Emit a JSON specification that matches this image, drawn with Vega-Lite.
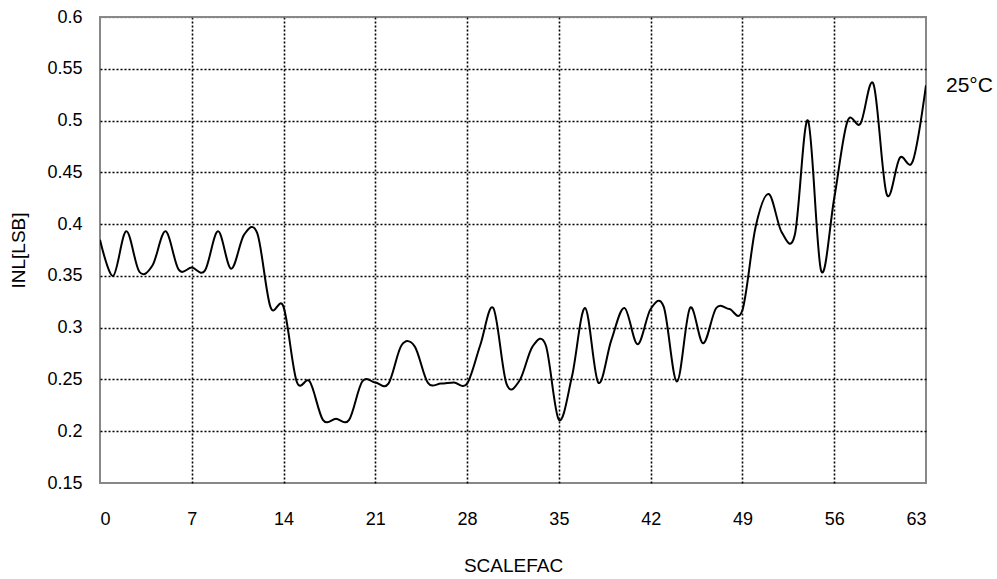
{
  "$schema": "https://vega.github.io/schema/vega-lite/v6.json",
  "autosize": "none",
  "width": 826,
  "height": 466,
  "padding": {"left": 100, "top": 17, "right": 71, "bottom": 96},
  "background": "white",
  "config": {
    "font": "Liberation Sans",
    "view": {"stroke": "#888888", "strokeWidth": 2},
    "axis": {
      "labelFont": "Liberation Sans",
      "titleFont": "Liberation Sans",
      "labelColor": "black",
      "titleColor": "black",
      "labelFontSize": 18,
      "titleFontSize": 19,
      "titleFontWeight": "normal",
      "domain": false,
      "ticks": false,
      "gridDash": [2, 2],
      "gridWidth": 1.6
    }
  },
  "data": {
    "values": [
      {"x": 0, "y": 0.385}, {"x": 1, "y": 0.350}, {"x": 2, "y": 0.393}, {"x": 3, "y": 0.354},
      {"x": 4, "y": 0.360}, {"x": 5, "y": 0.393}, {"x": 6, "y": 0.356}, {"x": 7, "y": 0.358},
      {"x": 8, "y": 0.355}, {"x": 9, "y": 0.393}, {"x": 10, "y": 0.357}, {"x": 11, "y": 0.390},
      {"x": 12, "y": 0.391}, {"x": 13, "y": 0.320}, {"x": 14, "y": 0.320}, {"x": 15, "y": 0.248},
      {"x": 16, "y": 0.248}, {"x": 17, "y": 0.211}, {"x": 18, "y": 0.212}, {"x": 19, "y": 0.211},
      {"x": 20, "y": 0.248}, {"x": 21, "y": 0.247}, {"x": 22, "y": 0.246}, {"x": 23, "y": 0.283},
      {"x": 24, "y": 0.282}, {"x": 25, "y": 0.247}, {"x": 26, "y": 0.246}, {"x": 27, "y": 0.247},
      {"x": 28, "y": 0.246}, {"x": 29, "y": 0.283}, {"x": 30, "y": 0.319}, {"x": 31, "y": 0.246},
      {"x": 32, "y": 0.249}, {"x": 33, "y": 0.282}, {"x": 34, "y": 0.283}, {"x": 35, "y": 0.211},
      {"x": 36, "y": 0.253}, {"x": 37, "y": 0.319}, {"x": 38, "y": 0.247}, {"x": 39, "y": 0.288},
      {"x": 40, "y": 0.319}, {"x": 41, "y": 0.284}, {"x": 42, "y": 0.318}, {"x": 43, "y": 0.320},
      {"x": 44, "y": 0.248}, {"x": 45, "y": 0.319}, {"x": 46, "y": 0.285}, {"x": 47, "y": 0.319},
      {"x": 48, "y": 0.318}, {"x": 49, "y": 0.317}, {"x": 50, "y": 0.397}, {"x": 51, "y": 0.429},
      {"x": 52, "y": 0.392}, {"x": 53, "y": 0.390}, {"x": 54, "y": 0.500}, {"x": 55, "y": 0.355},
      {"x": 56, "y": 0.425}, {"x": 57, "y": 0.499}, {"x": 58, "y": 0.497}, {"x": 59, "y": 0.535},
      {"x": 60, "y": 0.429}, {"x": 61, "y": 0.464}, {"x": 62, "y": 0.461}, {"x": 63, "y": 0.534}
    ]
  },
  "layer": [
    {
      "mark": {"type": "line", "color": "black", "strokeWidth": 2, "interpolate": "cardinal", "clip": true},
      "encoding": {
        "x": {
          "field": "x", "type": "quantitative",
          "scale": {"domain": [0, 63], "nice": false, "zero": false},
          "axis": {
            "title": "SCALEFAC",
            "values": [0, 7, 14, 21, 28, 35, 42, 49, 56, 63],
            "labelPadding": 27,
            "titlePadding": 28,
            "gridColor": "black",
            "gridOpacity": {"condition": {"test": "datum.value == 0 || datum.value == 63", "value": 0}, "value": 1}
          }
        },
        "y": {
          "field": "y", "type": "quantitative",
          "scale": {"domain": [0.15, 0.6], "nice": false, "zero": false},
          "axis": {
            "title": "INL[LSB]",
            "values": [0.15, 0.2, 0.25, 0.3, 0.35, 0.4, 0.45, 0.5, 0.55, 0.6],
            "format": ".2~f",
            "labelPadding": 18,
            "titlePadding": 18,
            "gridColor": {"condition": {"test": "datum.value > 0.59", "value": "#888888"}, "value": "black"},
            "gridOpacity": {"condition": {"test": "datum.value < 0.16", "value": 0}, "value": 1}
          }
        }
      }
    },
    {
      "data": {"values": [{"x": 63, "y": 0.533, "label": "25°C"}]},
      "mark": {"type": "text", "align": "left", "baseline": "middle", "dx": 20, "fontSize": 21, "font": "Liberation Sans", "color": "black"},
      "encoding": {
        "x": {"field": "x", "type": "quantitative"},
        "y": {"field": "y", "type": "quantitative"},
        "text": {"field": "label"}
      }
    }
  ]
}
